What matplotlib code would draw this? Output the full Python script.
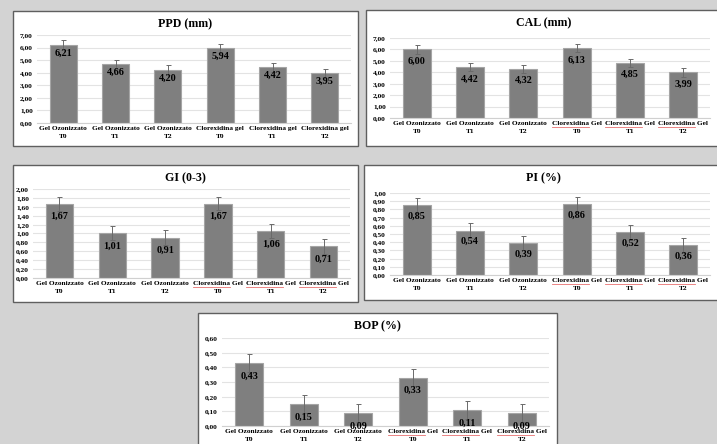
import matplotlib.pyplot as plt
from matplotlib.patches import Rectangle
from matplotlib.lines import Line2D
from matplotlib.ticker import MultipleLocator, FuncFormatter

plt.rcParams['font.family'] = ['Liberation Serif', 'DejaVu Serif']
plt.rcParams['font.weight'] = 'bold'

W, H = 717, 444

# --- data ---
labels_ppd = ['Gel Ozonizzato\nT0', 'Gel Ozonizzato\nT1', 'Gel Ozonizzato\nT2',
              'Clorexidina gel\nT0', 'Clorexidina gel\nT1', 'Clorexidina gel\nT2']
labels_gel = ['Gel Ozonizzato\nT0', 'Gel Ozonizzato\nT1', 'Gel Ozonizzato\nT2',
              'Clorexidina Gel\nT0', 'Clorexidina Gel\nT1', 'Clorexidina Gel\nT2']

ppd = [6.21, 4.66, 4.20, 5.94, 4.42, 3.95]
ppd_err = [0.40, 0.36, 0.40, 0.38, 0.36, 0.37]
cal = [6.00, 4.42, 4.32, 6.13, 4.85, 3.99]
cal_err = [0.40, 0.35, 0.36, 0.37, 0.35, 0.36]
gi = [1.67, 1.01, 0.91, 1.67, 1.06, 0.71]
gi_err = [0.16, 0.16, 0.17, 0.15, 0.16, 0.17]
pi = [0.85, 0.54, 0.39, 0.86, 0.52, 0.36]
pi_err = [0.09, 0.09, 0.09, 0.09, 0.09, 0.09]
bop = [0.43, 0.15, 0.09, 0.33, 0.11, 0.09]
bop_err = [0.06, 0.06, 0.06, 0.06, 0.06, 0.06]

# panels: title, values, errors, labels, ymax, ystep, frame px, axes px, label offset px, underline
panels = [
    ('PPD (mm)', ppd, ppd_err, labels_ppd, 7.0, 1.0, (13, 11, 358, 146), (37, 35, 351, 123), 8, False),
    ('CAL (mm)', cal, cal_err, labels_gel, 7.0, 1.0, (366, 10, 722, 146), (390, 38, 710, 118), 12, True),
    ('GI (0-3)', gi, gi_err, labels_gel, 2.0, 0.2, (13, 165, 358, 302), (33, 189, 350, 278), 13, True),
    ('PI (%)', pi, pi_err, labels_gel, 1.0, 0.1, (364, 165, 722, 300), (390, 193, 710, 275), 11, True),
    ('BOP (%)', bop, bop_err, labels_gel, 0.6, 0.1, (198, 313, 557, 448), (222, 338, 549, 426), 13, True),
]

fig = plt.figure(figsize=(W / 100, H / 100), dpi=100)
fig.patch.set_facecolor('#d3d3d3')

comma = FuncFormatter(lambda v, p: f'{v:.2f}'.replace('.', ','))
underline_jobs = []

for title, vals, errs, labels, ymax, ystep, frame, box, off, uline in panels:
    fl, ft, fr, fb = frame
    fig.add_artist(Rectangle((fl / W, 1 - fb / H), (fr - fl) / W, (fb - ft) / H,
                             transform=fig.transFigure, facecolor='white',
                             edgecolor='#5f5f5f', lw=1.0, zorder=0))
    fig.text((fl + fr) / 2 / W, 1 - (ft + 13) / H, title, ha='center', va='center',
             fontsize=8.6, fontweight='bold', color='black')

    l, t, r, b = box
    ax = fig.add_axes([l / W, 1 - b / H, (r - l) / W, (b - t) / H])
    ax.set_facecolor('none')
    x = list(range(len(vals)))
    ax.bar(x, vals, width=0.52, color='#7f7f7f', edgecolor='#a5a5a5', lw=0.8, zorder=2)
    ax.errorbar(x, vals, yerr=errs, fmt='none', ecolor='#6a6a6a', elinewidth=0.7,
                capsize=1.8, capthick=0.7, zorder=3)
    for xi, v in zip(x, vals):
        ax.annotate(f'{v:.2f}'.replace('.', ','), (xi, v), xytext=(0, -off * 0.72),
                    textcoords='offset points', ha='center', va='center',
                    fontsize=7.3, fontweight='bold', color='black', zorder=4)
    ax.set_xlim(-0.5, len(vals) - 0.5)
    ax.set_ylim(0, ymax)
    ax.yaxis.set_major_locator(MultipleLocator(ystep))
    ax.yaxis.set_major_formatter(comma)
    ax.grid(axis='y', color='#e3e3e3', lw=0.8, zorder=0)
    ax.set_axisbelow(True)
    for s in ['top', 'right', 'left']:
        ax.spines[s].set_visible(False)
    ax.spines['bottom'].set_color('#d0d0d0')
    ax.spines['bottom'].set_linewidth(0.8)
    ax.tick_params(axis='y', length=0, labelsize=5.3, pad=3)
    ax.tick_params(axis='x', length=0, labelsize=5.3, pad=2.5)
    ax.set_xticks(x)
    ax.set_xticklabels(labels)
    for lab in ax.get_xticklabels():
        lab.set_linespacing(1.65)
    if uline:
        underline_jobs.append(ax)

# red spell-check underline under "Clorexidina"
fig.canvas.draw()
renderer = fig.canvas.get_renderer()
inv = fig.transFigure.inverted()
for ax in underline_jobs:
    for lab in ax.get_xticklabels():
        if not lab.get_text().startswith('Clorexidina'):
            continue
        bb = lab.get_window_extent(renderer)
        tmp = fig.text(0, 0, 'Clorexidina', fontsize=lab.get_fontsize(), fontweight='bold')
        wword = tmp.get_window_extent(renderer).width
        tmp.remove()
        y = bb.y1 - bb.height * 0.5 + 0.5
        (fx0, fy), (fx1, _) = inv.transform([(bb.x0, y), (bb.x0 + wword, y)])
        fig.add_artist(Line2D([fx0, fx1], [fy, fy], transform=fig.transFigure,
                              color='#e87070', lw=0.6))

fig.savefig('out.png', dpi=100, facecolor=fig.get_facecolor())
